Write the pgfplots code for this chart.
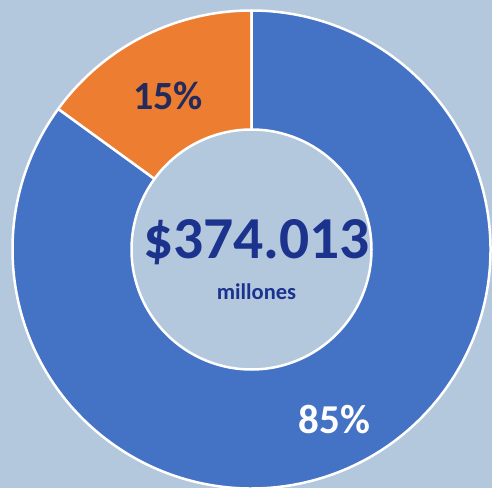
\documentclass[border=0pt]{standalone}
\usepackage{pgfplots}
\pgfplotsset{compat=1.18}
\usepackage{pgfplotstable}
\usepackage{fontspec}
\setmainfont{Carlito}
\definecolor{bgc}{HTML}{B4C8DD}
\definecolor{sblue}{HTML}{4472C4}
\definecolor{sorange}{HTML}{ED7D31}
\definecolor{tblue}{HTML}{1C338E}
\definecolor{tnavy}{HTML}{232A5C}
\pgfplotstableread{
label value
Orange 15
Blue 85
}\donutdata
\pgfplotstablegetelem{0}{value}\of\donutdata
\pgfmathsetmacro{\vA}{\pgfplotsretval}
\pgfplotstablegetelem{1}{value}\of\donutdata
\pgfmathsetmacro{\vB}{\pgfplotsretval}
\pgfmathsetmacro{\aS}{90}
\pgfmathsetmacro{\aM}{90+\vA*3.6}
\pgfmathsetmacro{\aE}{\aM+\vB*3.6}
\def\cx{251.5}
\def\cy{238.5}
\def\Ro{239}
\def\Ri{120}
\begin{document}
\begin{tikzpicture}
\begin{axis}[
  x=1pt, y=1pt,
  xmin=0, xmax=492, ymin=0, ymax=488,
  scale only axis,
  ticks=none,
  axis line style={draw=none},
  axis background/.style={fill=bgc},
  clip=true,
]
\addplot[draw=none] coordinates {(0,0) (492,488)};
% orange wedge
\fill[sorange, draw=white, line width=2.5pt, line join=round]
  (axis cs:{\cx+\Ro*cos(\aS)},{\cy+\Ro*sin(\aS)})
  arc[start angle=\aS, end angle=\aM, radius=\Ro pt]
  -- (axis cs:{\cx+\Ri*cos(\aM)},{\cy+\Ri*sin(\aM)})
  arc[start angle=\aM, end angle=\aS, radius=\Ri pt] -- cycle;
% blue wedge
\fill[sblue, draw=white, line width=2.5pt, line join=round]
  (axis cs:{\cx+\Ro*cos(\aM)},{\cy+\Ro*sin(\aM)})
  arc[start angle=\aM, end angle=\aE, radius=\Ro pt]
  -- (axis cs:{\cx+\Ri*cos(\aE)},{\cy+\Ri*sin(\aE)})
  arc[start angle=\aE, end angle=\aM, radius=\Ri pt] -- cycle;
\node[text=tblue, font=\bfseries\fontsize{59.5}{62}\selectfont] at (axis cs:256.5,246) {\$374.013};
\node[text=tblue, font=\bfseries\fontsize{22.5}{25}\selectfont] at (axis cs:256.5,196) {millones};
\node[text=tnavy, font=\bfseries\fontsize{40}{44}\selectfont] at (axis cs:168,392) {15\%};
\node[text=white, font=\bfseries\fontsize{41}{44}\selectfont] at (axis cs:334.5,68.5) {85\%};
\end{axis}
\end{tikzpicture}
\end{document}
